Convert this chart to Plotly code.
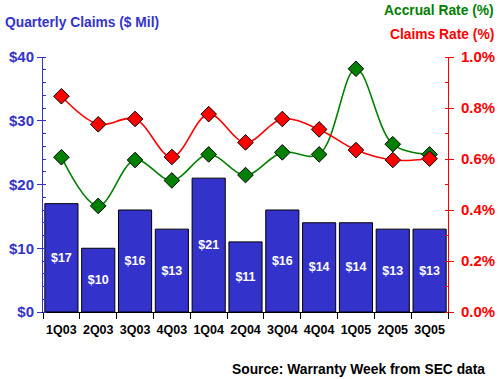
import plotly.graph_objects as go

quarters = ["1Q03", "2Q03", "3Q03", "4Q03", "1Q04", "2Q04", "3Q04", "4Q04", "1Q05", "2Q05", "3Q05"]
claims_mil = [17, 10, 16, 13, 21, 11, 16, 14, 14, 13, 13]
claims_rate = [0.846, 0.736, 0.757, 0.608, 0.776, 0.665, 0.757, 0.716, 0.635, 0.596, 0.601]
accrual_rate = [0.607, 0.416, 0.596, 0.516, 0.618, 0.537, 0.626, 0.618, 0.954, 0.658, 0.618]
bar_labels = ["$%d" % v for v in claims_mil]

BLUE = "#3333CC"
RED = "#FF0000"
GREEN = "#008000"
FONT = "Liberation Sans"

L, R, T, B = 43, 52, 57, 67
PW, PH = 500 - L - R, 379 - T - B

def px_x(x):
    return (x - L) / PW

def px_y(y):
    return (379 - B - y) / PH

fig = go.Figure()
fig.add_trace(go.Bar(
    x=quarters, y=claims_mil, text=bar_labels, textposition="inside",
    insidetextanchor="middle", textangle=0,
    textfont=dict(color="white", size=12.5, family=FONT, weight="bold"),
    marker=dict(color=BLUE, line=dict(color="black", width=1)),
    width=0.9, yaxis="y", showlegend=False, cliponaxis=False,
))
fig.add_trace(go.Scatter(
    x=quarters, y=accrual_rate, mode="lines+markers", yaxis="y2",
    line=dict(color=GREEN, width=1.6, shape="spline", smoothing=1.0),
    marker=dict(symbol="diamond", size=12, color=GREEN, line=dict(color="black", width=1)),
    showlegend=False, cliponaxis=False,
))
fig.add_trace(go.Scatter(
    x=quarters, y=claims_rate, mode="lines+markers", yaxis="y2",
    line=dict(color=RED, width=1.6, shape="spline", smoothing=1.0),
    marker=dict(symbol="diamond", size=12, color=RED, line=dict(color="black", width=1)),
    showlegend=False, cliponaxis=False,
))

fig.update_layout(
    width=500, height=379,
    margin=dict(l=L, r=R, t=T, b=B),
    paper_bgcolor="white", plot_bgcolor="white",
    font=dict(family=FONT),
    xaxis=dict(
        showline=True, linecolor="black", linewidth=1,
        ticks="outside", tickson="boundaries", ticklen=6, tickcolor="black",
        tickfont=dict(color="black", size=12.5, family=FONT, weight="bold"),
        tickangle=0, automargin=False, ticklabelstandoff=6,
        showgrid=False, range=[-0.5, 10.5],
    ),
    yaxis=dict(
        range=[0, 40], tickvals=[0, 10, 20, 30, 40],
        ticktext=["$0", "$10", "$20", "$30", "$40"],
        showline=True, linecolor=BLUE, linewidth=1,
        ticks="outside", ticklen=5, tickcolor=BLUE,
        tickfont=dict(color=BLUE, size=15, family=FONT, weight="bold"),
        showgrid=False, zeroline=False, automargin=False,
        minor=dict(dtick=2, ticks="inside", ticklen=3, tickcolor=BLUE, showgrid=False),
    ),
    yaxis2=dict(
        range=[0, 1.0], overlaying="y", side="right",
        tickvals=[0, 0.2, 0.4, 0.6, 0.8, 1.0],
        ticktext=["0.0%", "0.2%", "0.4%", "0.6%", "0.8%", "1.0%"],
        showline=True, linecolor=RED, linewidth=1,
        ticks="outside", ticklen=5, tickcolor=RED,
        tickfont=dict(color=RED, size=15, family=FONT, weight="bold"),
        showgrid=False, zeroline=False, automargin=False, ticklabelstandoff=4,
        minor=dict(dtick=0.1, ticks="inside", ticklen=3, tickcolor=RED, showgrid=False),
    ),
    annotations=[
        dict(text="Quarterly Claims ($ Mil)", xref="paper", yref="paper",
             x=px_x(3), y=px_y(22), xanchor="left", yanchor="middle",
             showarrow=False, font=dict(color=BLUE, size=13.8, family=FONT, weight="bold")),
        dict(text="Accrual Rate (%)", xref="paper", yref="paper",
             x=px_x(496), y=px_y(10), xanchor="right", yanchor="middle",
             showarrow=False, font=dict(color=GREEN, size=13.8, family=FONT, weight="bold")),
        dict(text="Claims Rate (%)", xref="paper", yref="paper",
             x=px_x(496), y=px_y(34), xanchor="right", yanchor="middle",
             showarrow=False, font=dict(color=RED, size=13.8, family=FONT, weight="bold")),
        dict(text="Source: Warranty Week from SEC data", xref="paper", yref="paper",
             x=px_x(487), y=px_y(369), xanchor="right", yanchor="middle",
             showarrow=False, font=dict(color="black", size=13.8, family=FONT, weight="bold")),
    ],
)

fig.write_html(
    "out.html",
    config={"displayModeBar": False},
    post_script="document.body.style.margin='0';document.body.style.overflow='hidden';",
)
